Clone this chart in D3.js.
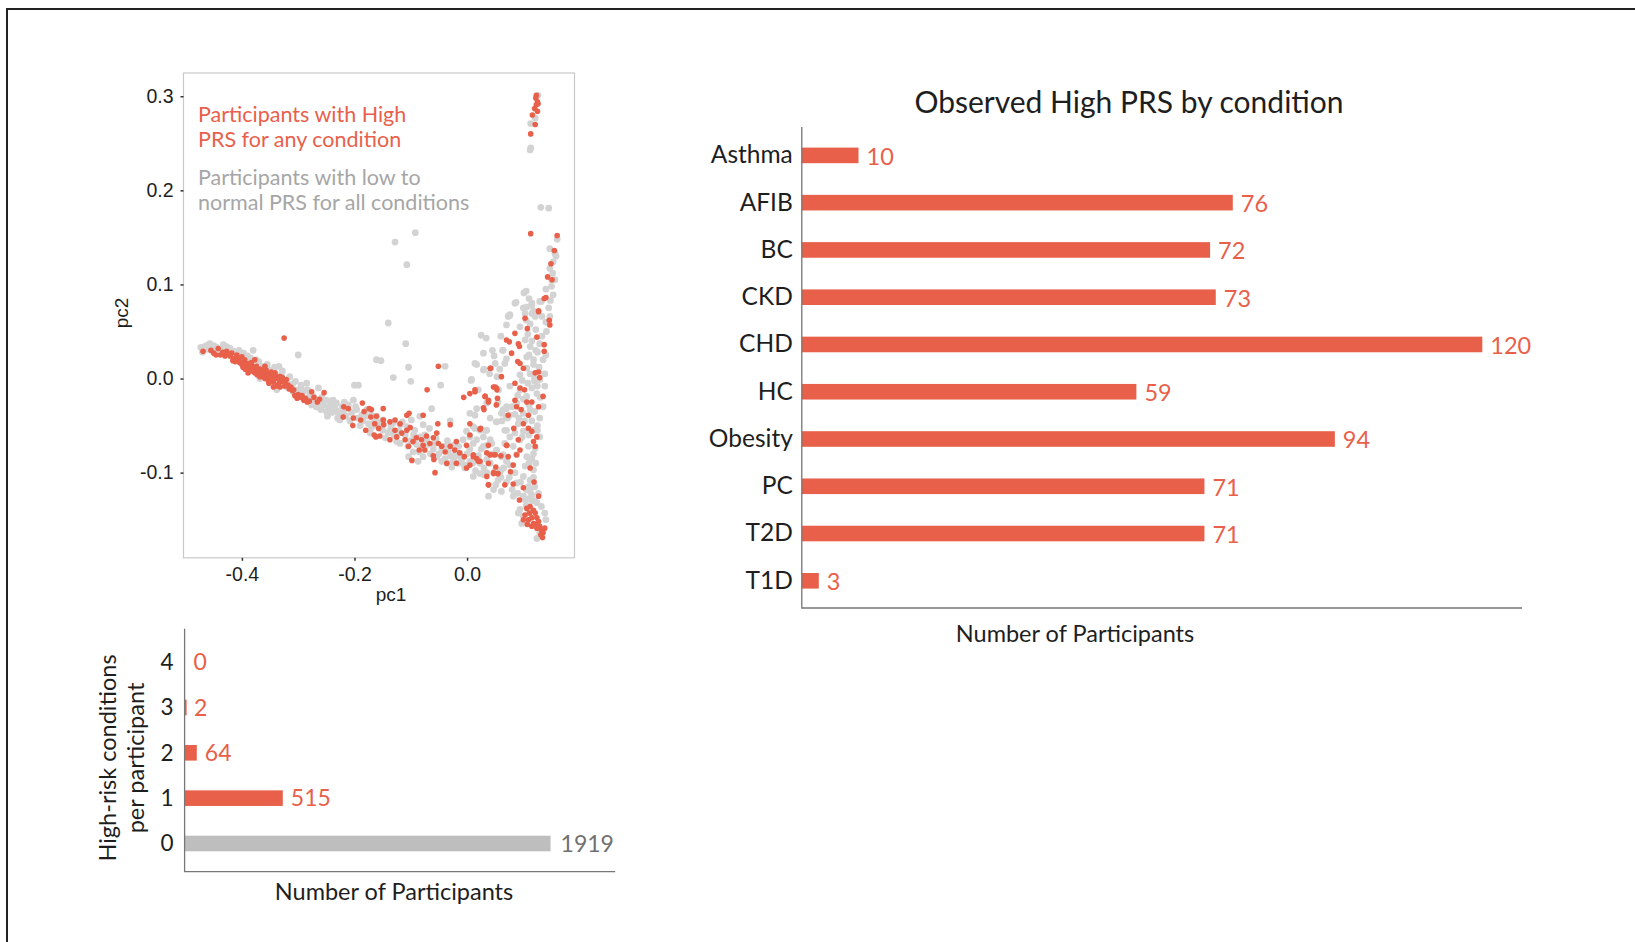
<!DOCTYPE html>
<html><head><meta charset="utf-8">
<script src="https://cdn.jsdelivr.net/npm/d3@7"></script>
<style>html,body{margin:0;padding:0;background:#fff;}svg{display:block;}</style>
</head><body>
<script>
// ---------------- DATA ----------------
const conditions = ["Asthma","AFIB","BC","CKD","CHD","HC","Obesity","PC","T2D","T1D"];
const conditionCounts = [10,76,72,73,120,59,94,71,71,3];

const riskLevels = ["4","3","2","1","0"];
const riskCounts = [0,2,64,515,1919];

const pcXTicks = [-0.4,-0.2,0.0];
const pcYTicks = [-0.1,0.0,0.1,0.2,0.3];

const legendHigh = ["Participants with High","PRS for any condition"];
const legendLow = ["Participants with low to","normal PRS for all conditions"];

// participants with low to normal PRS (pc1, pc2)
const lowPRS = [
[-0.473,0.033],[-0.463,0.035],[-0.454,0.030],[-0.433,0.036],[-0.421,0.032],[-0.380,0.030],[-0.334,0.013],[-0.300,0.025],[-0.285,-0.005],[-0.264,-0.010],[-0.250,-0.023],[-0.241,-0.031],[-0.232,-0.034],[-0.226,-0.044],[-0.202,-0.023],[-0.193,-0.007],[-0.178,-0.033],[-0.161,0.020],[-0.211,-0.028],[-0.250,-0.035],[-0.403,0.025],[-0.392,0.018],[-0.362,0.013],[-0.350,0.009],[-0.321,-0.009],[-0.309,-0.014],[-0.297,-0.016],[-0.273,-0.019],[-0.261,-0.026],[-0.238,-0.023],[-0.232,-0.026],[-0.220,-0.035],[-0.196,-0.033],[-0.187,-0.039],[-0.439,0.027],[-0.445,0.033],[-0.368,0.000],[-0.338,-0.012],
[-0.470,0.028],[-0.460,0.031],[-0.450,0.035],[-0.440,0.030],[-0.430,0.031],[-0.410,0.028],[-0.400,0.020],[-0.390,0.024],[-0.370,0.018],[-0.360,0.010],[-0.345,0.005],[-0.330,0.004],[-0.320,-0.004],[-0.310,-0.006],[-0.300,-0.012],[-0.290,-0.013],[-0.280,-0.018],[-0.270,-0.022],
[-0.466,0.034],[-0.457,0.037],[-0.448,0.029],[-0.427,0.034],[-0.415,0.029],[-0.405,0.030],[-0.397,0.027],[-0.385,0.022],[-0.375,0.020],[-0.355,0.015],[-0.342,0.012],[-0.328,0.008],[-0.315,0.002],[-0.305,-0.003],[-0.295,-0.007],[-0.283,-0.012],[-0.276,-0.028],[-0.268,-0.030],[-0.258,-0.020],[-0.248,-0.040],[-0.243,-0.024],[-0.230,-0.042],[-0.218,-0.025],[-0.208,-0.045],[-0.198,-0.030],[-0.190,-0.050],[-0.180,-0.040],[-0.172,-0.058],[-0.163,-0.043],[-0.155,-0.047],[-0.145,-0.063],[-0.135,-0.050],[-0.125,-0.067],[-0.115,-0.046],[-0.105,-0.072],[-0.095,-0.060],[-0.085,-0.078],[-0.075,-0.060],[-0.065,-0.080],[-0.055,-0.064],[-0.045,-0.088],[-0.035,-0.066],[-0.025,-0.088],[-0.015,-0.072],[-0.005,-0.092],[0.005,-0.075],[0.015,-0.098],[0.025,-0.075],[0.035,-0.100],[0.045,-0.080],[0.055,-0.108],[0.065,-0.095],[0.075,-0.105],[0.085,-0.100],[0.095,-0.110],[0.105,-0.118],[0.115,-0.130],[0.110,-0.090],[0.118,-0.080],[0.125,-0.050],[0.130,-0.020],[0.120,-0.003],[0.118,0.015],[0.125,0.028],[0.133,0.045],[0.140,0.060],[0.145,0.075],[0.140,0.095],[0.148,0.083],
[-0.255,-0.028],[-0.245,-0.030],[-0.240,-0.036],[-0.235,-0.029],[-0.228,-0.038],[-0.222,-0.030],[-0.260,-0.033],[-0.215,-0.040],[-0.205,-0.036],[-0.195,-0.042],[-0.185,-0.045],[-0.175,-0.048],[-0.170,-0.052],[-0.160,-0.050],[-0.150,-0.055],[-0.140,-0.058],[-0.130,-0.060],[-0.120,-0.056],[-0.110,-0.060],[-0.100,-0.066],[-0.090,-0.070],[-0.080,-0.072],[-0.070,-0.070],[-0.060,-0.075],[-0.050,-0.080],[-0.040,-0.072],[-0.030,-0.082],[-0.020,-0.078],[-0.010,-0.085],[0.000,-0.080],[0.010,-0.090],[0.020,-0.082],[0.030,-0.095],[0.040,-0.090],[0.050,-0.098],[0.060,-0.105],[0.070,-0.110],[0.080,-0.118],[0.090,-0.122],[0.100,-0.125],[0.105,-0.135],[0.110,-0.140],
[-0.109,0.037],[-0.153,0.019],[-0.104,0.012],[-0.131,0.001],[-0.100,-0.003],[-0.047,-0.007],[-0.039,0.013],[0.034,0.043],[0.029,0.027],[0.048,0.024],[0.017,0.015],[0.030,0.010],[0.063,0.030],[0.007,-0.002],[0.067,0.016],[-0.063,-0.032],[-0.084,-0.040],[-0.099,-0.044],[-0.030,-0.045],[0.005,-0.037],[0.017,-0.032],[0.014,-0.039],[0.055,-0.012],[0.055,-0.025],[0.064,-0.033],[0.070,-0.040],[0.052,-0.046],[0.041,-0.042],[-0.001,-0.056],[0.005,-0.062],[0.017,-0.065],[0.029,-0.062],[0.035,-0.071],[0.044,-0.069],[0.052,-0.076],[0.061,-0.083],[0.070,-0.088],[0.061,-0.097],[0.051,-0.113],[0.038,-0.125],[0.023,-0.101],[0.011,-0.104],[-0.004,-0.095],[-0.016,-0.090],[-0.022,-0.083],[-0.033,-0.076],[-0.045,-0.074],[-0.057,-0.069],[-0.072,-0.065],[-0.084,-0.062],[-0.093,-0.055],[-0.107,-0.051],[-0.119,-0.049],[-0.131,-0.047],[-0.137,-0.055],[-0.149,-0.044],[-0.161,-0.040],[-0.170,-0.039],[-0.165,-0.047],[-0.119,-0.069],[-0.054,-0.083],[-0.039,-0.085],[-0.013,-0.081],[-0.010,-0.088],[-0.027,-0.094],[-0.036,-0.090],[-0.078,-0.083],[-0.096,-0.078],[-0.104,-0.083],[-0.087,-0.088],[0.005,-0.088],[0.023,-0.090],[0.035,-0.086],[0.067,-0.069],[0.067,-0.055],[0.070,-0.032],[0.011,-0.051],[0.023,-0.055],[0.035,-0.055],[-0.007,-0.065],[-0.025,-0.071],[-0.067,-0.053],[-0.078,-0.049],
[-0.128,0.145],[-0.107,0.121],[-0.092,0.155],[-0.140,0.059],[-0.200,-0.007],
[0.126,0.301],[0.121,0.277],[0.113,0.271],[0.113,0.245],[0.112,0.243],[0.131,0.182],[0.145,0.181],[0.160,0.148],[0.147,0.138],[0.156,0.133],[0.158,0.130],[0.153,0.124],[0.147,0.117],[0.152,0.112],[0.150,0.105],[0.156,0.105],[0.150,0.098],[0.105,0.093],[0.087,0.081],[0.106,0.076],[0.115,0.080],[0.129,0.082],[0.153,0.089],[0.076,0.068],[0.115,0.069],[0.133,0.066],
[0.085,0.080],[0.115,0.078],[0.132,0.082],[0.076,0.067],[0.103,0.069],[0.121,0.066],[0.147,0.066],[0.141,0.050],[0.094,0.055],[0.070,0.057],[0.103,0.041],[0.112,0.034],[0.129,0.037],[0.064,0.030],[0.070,0.021],[0.106,0.023],[0.135,0.020],[0.050,0.016],[0.014,0.016],[0.029,0.009],[0.053,0.002],[0.094,0.004],[0.106,0.011],[0.129,-0.001],[0.138,-0.008],[0.076,-0.008],[0.008,-0.001],[0.020,-0.012],[0.056,-0.012],[0.094,-0.012],[0.106,-0.019],[0.124,-0.016],[0.035,-0.026],[0.070,-0.030],[0.088,-0.026],[0.061,-0.037],[0.076,-0.039],[0.100,-0.037],[0.112,-0.033],[0.129,-0.042],[0.053,-0.046],[0.091,-0.048],[0.014,-0.053],[0.032,-0.055],[0.070,-0.055],[0.100,-0.056],[0.118,-0.055],[0.129,-0.062],[0.041,-0.065],[0.076,-0.062],[0.094,-0.065],[0.109,-0.072],[0.121,-0.074],[0.011,-0.069],[0.029,-0.072],[0.053,-0.076],[0.082,-0.072],[0.088,-0.081],[0.064,-0.081],[0.106,-0.083],[0.020,-0.086],[0.041,-0.090],[0.076,-0.092],[0.103,-0.093],[0.118,-0.097],[0.058,-0.101],[0.029,-0.102],[0.100,-0.104],[0.112,-0.108],[0.047,-0.118],[0.061,-0.120],[0.088,-0.111],[0.109,-0.115],[0.082,-0.125],[0.103,-0.129],[0.115,-0.124],[0.127,-0.122],[0.124,-0.132],[0.094,-0.139],[0.100,-0.146],[0.138,-0.143],[0.129,-0.164],[0.091,-0.143],[0.097,-0.154],[0.132,-0.136],[0.124,-0.170],
[0.101,0.091],[0.100,0.075],[0.110,0.085],[0.118,0.072],[0.105,0.062],[0.112,0.058],[0.122,0.052],[0.108,0.047],[0.115,0.040],[0.122,0.030],[0.110,0.025],[0.118,0.020],[0.128,0.012],[0.112,0.005],[0.120,0.000],[0.098,-0.002],[0.108,-0.005],[0.115,-0.010],[0.125,-0.008],[0.090,-0.018],[0.100,-0.022],[0.110,-0.028],[0.120,-0.035],[0.080,-0.030],[0.085,-0.038],[0.072,-0.042],[0.062,-0.045],[0.092,-0.042],[0.102,-0.045],[0.115,-0.045],[0.125,-0.055],[0.110,-0.060],[0.098,-0.062],[0.085,-0.058],[0.115,-0.085],[0.122,-0.090],[0.118,-0.105],[0.112,-0.120],[0.120,-0.115],[0.108,-0.128],[0.135,-0.030],[0.138,0.005],[0.140,0.025],[0.025,0.046],[0.073,0.066],[0.060,0.045],[0.045,0.030],[0.040,0.005],[0.058,0.010],[0.120,-0.130],[0.140,-0.150]
];

// participants with high PRS for any condition (pc1, pc2)
const highPRS = [
[-0.469,0.029],[-0.446,0.025],[-0.442,0.032],[-0.434,0.028],[-0.427,0.029],[-0.421,0.024],[-0.415,0.021],[-0.412,0.018],[-0.406,0.020],[-0.400,0.015],[-0.398,0.012],[-0.392,0.014],[-0.386,0.009],[-0.380,0.013],[-0.377,0.006],[-0.371,0.008],[-0.368,0.002],[-0.362,0.006],[-0.359,0.000],[-0.353,-0.002],[-0.350,0.004],[-0.344,-0.004],[-0.338,0.000],[-0.335,-0.006],[-0.332,-0.009],[-0.329,-0.003],[-0.324,-0.008],[-0.321,-0.001],[-0.316,-0.011],[-0.310,-0.013],[-0.306,-0.018],[-0.302,-0.021],[-0.296,-0.020],[-0.290,-0.023],[-0.284,-0.025],[-0.276,-0.014],[-0.266,-0.025],[-0.254,-0.015],[-0.325,0.043],[-0.219,-0.030],[-0.211,-0.032],[-0.202,-0.042],[-0.186,-0.026],[-0.183,-0.035],[-0.174,-0.032],[-0.171,-0.041],[-0.164,-0.048],[-0.220,-0.041],[-0.203,-0.050],[-0.189,-0.044],[-0.180,-0.055],[-0.165,-0.060],[-0.157,-0.053],
[-0.409,0.025],[-0.395,0.020],[-0.383,0.017],[-0.374,0.013],[-0.365,0.009],[-0.356,0.006],[-0.347,0.001],[-0.341,0.006],[-0.332,0.002],[-0.326,-0.003],[-0.377,0.020],[-0.400,0.023],[-0.359,0.013],[-0.389,0.006],[-0.344,-0.009],
[-0.455,0.030],[-0.450,0.027],[-0.438,0.025],[-0.430,0.024],[-0.425,0.026],[-0.418,0.027],[-0.416,0.019],[-0.410,0.022],[-0.404,0.017],[-0.396,0.019],[-0.394,0.010],[-0.388,0.016],[-0.385,0.012],[-0.382,0.008],[-0.375,0.011],[-0.373,0.004],[-0.368,0.010],[-0.365,0.004],[-0.361,0.002],[-0.357,0.009],[-0.355,0.003],[-0.352,-0.005],[-0.348,0.007],[-0.346,-0.001],[-0.340,0.003],[-0.337,-0.008],[-0.333,-0.002],[-0.328,0.001],[-0.323,-0.005],[-0.318,-0.007],[-0.313,-0.009],[-0.308,-0.012],[-0.300,-0.017],[-0.293,-0.018],[-0.287,-0.021],[-0.280,-0.024],[-0.272,-0.020],[-0.262,-0.022],
[-0.051,0.013],[-0.071,-0.012],[-0.006,-0.020],[0.005,-0.016],[0.014,-0.014],[0.032,-0.019],[0.041,0.011],[0.047,-0.009],[0.052,-0.010],[0.038,-0.025],[0.030,-0.033],[0.052,-0.028],[0.070,0.041],[0.073,-0.039],[-0.149,-0.032],[-0.170,-0.033],[-0.161,-0.040],[-0.149,-0.044],[-0.137,-0.046],[-0.128,-0.044],[-0.119,-0.048],[-0.128,-0.055],[-0.125,-0.062],[-0.116,-0.058],[-0.107,-0.055],[-0.101,-0.052],[-0.110,-0.065],[-0.104,-0.072],[-0.096,-0.067],[-0.090,-0.063],[-0.081,-0.065],[-0.078,-0.071],[-0.072,-0.061],[-0.066,-0.069],[-0.060,-0.063],[-0.054,-0.058],[-0.051,-0.069],[-0.045,-0.072],[-0.039,-0.078],[-0.030,-0.072],[-0.022,-0.076],[-0.019,-0.067],[-0.013,-0.079],[-0.005,-0.083],[-0.001,-0.071],[0.005,-0.060],[0.011,-0.083],[0.017,-0.085],[0.005,-0.092],[-0.001,-0.095],[0.023,-0.088],[0.038,-0.071],[0.041,-0.081],[0.050,-0.081],[0.070,-0.071],[0.073,-0.083],[0.051,-0.094],[0.035,-0.104],[0.047,-0.101],[0.054,-0.101],[0.038,-0.113],[-0.057,-0.100],[-0.059,-0.086],[-0.060,-0.082],[-0.036,-0.090],[-0.019,-0.090],[-0.085,-0.076],[-0.098,-0.087],[-0.075,-0.076],[-0.030,-0.049],[0.005,-0.048],[0.023,-0.054],[-0.107,-0.039],[-0.078,-0.039],[-0.052,-0.048],[-0.103,-0.037],[-0.148,-0.049],[-0.155,-0.061],[-0.162,-0.062],[-0.137,-0.065],
[0.123,0.301],[0.122,0.298],[0.125,0.294],[0.123,0.291],[0.126,0.292],[0.120,0.287],[0.125,0.284],[0.116,0.280],[0.121,0.270],[0.113,0.260],[0.113,0.154],[0.160,0.152],[0.155,0.136],[0.149,0.122],[0.143,0.108],[0.151,0.105],[0.137,0.085],[0.140,0.086],[0.127,0.072],[0.103,0.064],
[0.127,0.071],[0.146,0.062],[0.147,0.057],[0.107,0.053],[0.085,0.048],[0.075,0.039],[0.091,0.037],[0.093,0.034],[0.124,0.044],[0.137,0.036],[0.137,0.029],[0.079,0.027],[0.090,0.018],[0.094,0.016],[0.100,0.011],[0.127,0.007],[0.121,0.006],[0.129,0.001],[0.061,0.002],[0.042,0.011],[0.085,-0.005],[0.094,-0.010],[0.102,-0.012],[0.014,-0.012],[0.050,-0.009],[0.053,-0.012],[0.032,-0.019],[0.038,-0.023],[0.054,-0.021],[0.029,-0.031],[0.135,-0.019],[0.127,-0.030],[0.085,-0.023],[0.088,-0.030],[0.096,-0.033],[0.106,-0.025],[0.115,-0.025],[0.109,-0.039],[0.024,-0.053],[0.083,-0.053],[0.100,-0.048],[0.109,-0.053],[0.115,-0.056],[0.124,-0.062],[0.118,-0.067],[0.121,-0.072],[0.091,-0.065],[0.071,-0.071],[0.094,-0.076],[0.088,-0.081],[0.011,-0.081],[0.035,-0.079],[0.041,-0.081],[0.048,-0.081],[0.060,-0.082],[0.020,-0.088],[0.038,-0.090],[0.047,-0.100],[0.055,-0.101],[0.077,-0.099],[0.082,-0.092],[0.112,-0.095],[0.038,-0.113],[0.067,-0.113],[0.082,-0.112],[0.119,-0.110],[0.100,-0.116],[0.093,-0.129],[0.127,-0.125],
[0.106,-0.138],[0.112,-0.136],[0.118,-0.140],[0.103,-0.145],[0.111,-0.143],[0.121,-0.143],[0.115,-0.148],[0.124,-0.148],[0.109,-0.150],[0.118,-0.154],[0.127,-0.152],[0.129,-0.157],[0.124,-0.159],[0.132,-0.161],[0.135,-0.164],[0.131,-0.166],[0.134,-0.169],[0.121,-0.155],[0.138,-0.159],[0.115,-0.157],[0.100,-0.150],[0.107,-0.155]
];

// ---------------- DRAW ----------------
const RED = "#E8604A", GRAY_PT = "#D3D3D3", TEXT = "#1e1e1e";
const SANS = "Lato, 'Open Sans', sans-serif";
const ARIAL = "'Liberation Sans', Arial, sans-serif";

const svg = d3.select("body").append("svg").attr("width",1635).attr("height",942);

// frame
svg.append("path").attr("d","M7,942V9H1635").attr("fill","none").attr("stroke","#222").attr("stroke-width",2);

// ---- scatter ----
const sx = d3.scaleLinear().domain([-0.5037,0.1908]).range([183.5,574.5]);
const sy = d3.scaleLinear().domain([-0.1905,0.3247]).range([557.8,73]);

svg.append("rect").attr("x",sx.range()[0]).attr("y",sy.range()[1])
  .attr("width",sx.range()[1]-sx.range()[0]).attr("height",sy.range()[0]-sy.range()[1])
  .attr("fill","none").attr("stroke","#c8c8c8").attr("stroke-width",1.2);

const fmt = d => d.toFixed(1);
const gyA = svg.append("g").attr("transform",`translate(${sx.range()[0]},0)`)
  .call(d3.axisLeft(sy).tickValues(pcYTicks).tickSize(3).tickPadding(7).tickFormat(fmt));
const gxA = svg.append("g").attr("transform",`translate(0,${sy.range()[0]})`)
  .call(d3.axisBottom(sx).tickValues(pcXTicks).tickSize(3).tickPadding(6).tickFormat(fmt));
[gyA,gxA].forEach(g=>{
  g.select(".domain").remove();
  g.selectAll("line").attr("stroke","#333").attr("stroke-width",1.5);
  g.selectAll("text").attr("font-family",ARIAL).attr("font-size",19.5).attr("fill",TEXT);
});

svg.append("g").selectAll("circle").data(lowPRS).join("circle")
  .attr("cx",d=>sx(d[0])).attr("cy",d=>sy(d[1])).attr("r",3.4).attr("fill",GRAY_PT);
svg.append("g").selectAll("circle").data(highPRS).join("circle")
  .attr("cx",d=>sx(d[0])).attr("cy",d=>sy(d[1])).attr("r",2.8).attr("fill",RED);

svg.append("text").attr("transform","translate(121,313) rotate(-90)").attr("text-anchor","middle")
  .attr("dominant-baseline","central").attr("font-family",ARIAL).attr("font-size",19).attr("fill",TEXT).text("pc2");
svg.append("text").attr("x",391).attr("y",601).attr("text-anchor","middle")
  .attr("font-family",ARIAL).attr("font-size",19).attr("fill",TEXT).text("pc1");

legendHigh.forEach((t,i)=>svg.append("text").attr("x",198).attr("y",121.5+i*25)
  .attr("font-family",SANS).attr("font-size",21.5).attr("fill",RED).text(t));
legendLow.forEach((t,i)=>svg.append("text").attr("x",198).attr("y",185+i*25)
  .attr("font-family",SANS).attr("font-size",21.5).attr("fill","#a6a6a6").text(t));

// ---- bottom-left bar chart ----
const bx = d3.scaleLinear().domain([0,2258]).range([184.6,615.2]);
const by = d3.scalePoint().domain(riskLevels).range([662.1,843.5]);
const BH = 15.6;
const riskData = riskLevels.map((k,i)=>({k,v:riskCounts[i]}));
const gb = svg.append("g");
gb.selectAll("rect").data(riskData).join("rect")
  .attr("x",bx(0)).attr("y",d=>by(d.k)-BH/2)
  .attr("width",d=>d.v>0?Math.max(bx(d.v)-bx(0),2):0).attr("height",BH)
  .attr("fill",d=>d.k==="0"?"#BEBEBE":RED);
gb.selectAll("text.val").data(riskData).join("text").attr("class","val")
  .attr("x",d=>bx(d.v)+(d.v>1000?10:8)+(d.v<5?1:0)).attr("y",d=>by(d.k)).attr("dy","0.36em")
  .attr("font-family",SANS).attr("font-size",23).attr("fill",d=>d.k==="0"?"#707070":RED).text(d=>d.v);
const gbA = svg.append("g").attr("transform",`translate(${bx(0)},0)`)
  .call(d3.axisLeft(by).tickSize(0).tickPadding(11));
gbA.select(".domain").remove();
gbA.selectAll("text").attr("font-family",SANS).attr("font-size",22.5).attr("fill",TEXT);
svg.append("path").attr("d",`M${bx(0)},628.7V871.7H${bx.range()[1]}`).attr("fill","none").attr("stroke","#777").attr("stroke-width",1.3);
svg.append("text").attr("x",394).attr("y",899.5).attr("text-anchor","middle")
  .attr("font-family",SANS).attr("font-size",23.5).attr("fill",TEXT).text("Number of Participants");
["High-risk conditions","per participant"].forEach((t,i)=>svg.append("text")
  .attr("transform",`translate(${107+i*27.5},758) rotate(-90)`).attr("text-anchor","middle")
  .attr("dominant-baseline","central").attr("font-family",SANS).attr("font-size",23.5).attr("fill",TEXT).text(t));

// ---- right bar chart ----
const rx = d3.scaleLinear().domain([0,127]).range([801.8,1522]);
const ry = d3.scalePoint().domain(conditions).range([155.4,580.8]);
const condData = conditions.map((c,i)=>({c,v:conditionCounts[i]}));
const gr = svg.append("g");
gr.selectAll("rect").data(condData).join("rect")
  .attr("x",rx(0)).attr("y",d=>ry(d.c)-BH/2).attr("width",d=>rx(d.v)-rx(0)).attr("height",BH).attr("fill",RED);
gr.selectAll("text.val").data(condData).join("text").attr("class","val")
  .attr("x",d=>rx(d.v)+8).attr("y",d=>ry(d.c)).attr("dy","0.4em")
  .attr("font-family",SANS).attr("font-size",23.5).attr("fill",RED).text(d=>d.v);
const grA = svg.append("g").attr("transform",`translate(${rx(0)},0)`)
  .call(d3.axisLeft(ry).tickSize(0).tickPadding(9));
grA.select(".domain").remove();
grA.selectAll("text").attr("font-family",SANS).attr("font-size",24.5).attr("fill",TEXT).attr("dy","0.3em");
svg.append("path").attr("d",`M${rx(0)},127V608H${rx.range()[1]}`).attr("fill","none").attr("stroke","#777").attr("stroke-width",1.3);
svg.append("text").attr("x",1129).attr("y",113).attr("text-anchor","middle")
  .attr("font-family",SANS).attr("font-size",30).attr("fill",TEXT).text("Observed High PRS by condition");
svg.append("text").attr("x",1075).attr("y",642).attr("text-anchor","middle")
  .attr("font-family",SANS).attr("font-size",23.5).attr("fill",TEXT).text("Number of Participants");
</script>
</body></html>
